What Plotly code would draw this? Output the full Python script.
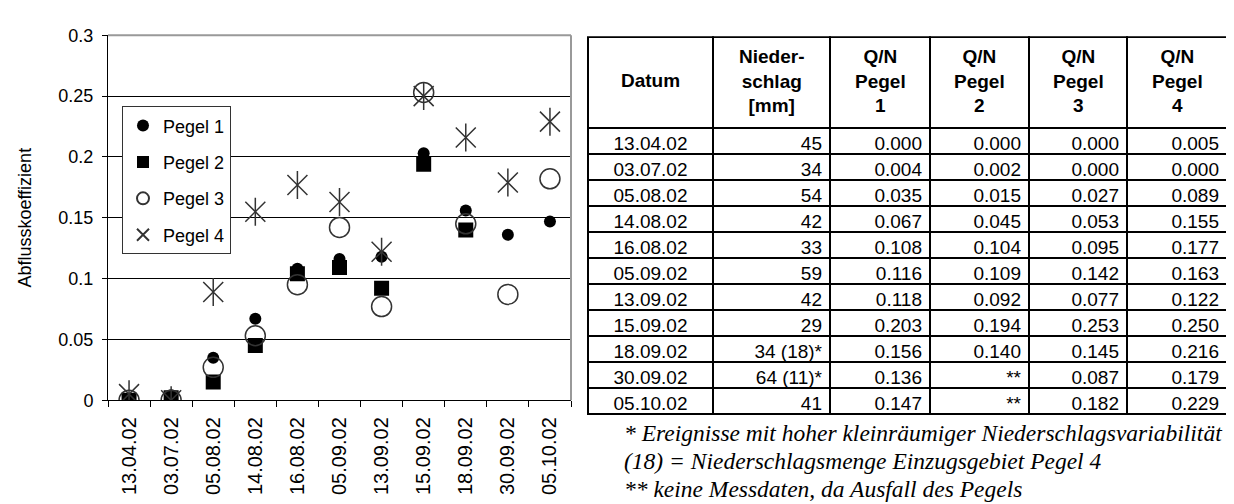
import plotly.graph_objects as go

W, H = 1234, 504

dates = ["13.04.02", "03.07.02", "05.08.02", "14.08.02", "16.08.02", "05.09.02",
         "13.09.02", "15.09.02", "18.09.02", "30.09.02", "05.10.02"]
niederschlag = ["45", "34", "54", "42", "33", "59", "42", "29", "34 (18)*", "64 (11)*", "41"]
pegel1 = [0.000, 0.004, 0.035, 0.067, 0.108, 0.116, 0.118, 0.203, 0.156, 0.136, 0.147]
pegel2 = [0.000, 0.002, 0.015, 0.045, 0.104, 0.109, 0.092, 0.194, 0.140, None, None]
pegel3 = [0.000, 0.000, 0.027, 0.053, 0.095, 0.142, 0.077, 0.253, 0.145, 0.087, 0.182]
pegel4 = [0.005, 0.000, 0.089, 0.155, 0.177, 0.163, 0.122, 0.250, 0.216, 0.179, 0.229]

header_labels = ["Datum", "Nieder-<br>schlag<br>[mm]", "Q/N<br>Pegel<br>1",
                 "Q/N<br>Pegel<br>2", "Q/N<br>Pegel<br>3", "Q/N<br>Pegel<br>4"]
footnotes = ["* Ereignisse mit hoher kleinräumiger Niederschlagsvariabilität",
             "(18) = Niederschlagsmenge Einzugsgebiet Pegel 4",
             "** keine Messdaten, da Ausfall des Pegels"]


def fmt(vals):
    return ["**" if v is None else f"{v:.3f}" for v in vals]


def px_x(x):
    return x / W


def px_y(y):
    return (H - y) / H


# layout geometry (pixels)
TABLE_L, TABLE_R, TABLE_T = 580, 1219, 20
HEADER_H, ROW_H = 91, 26
COL_W = [125, 117, 100, 99, 98, 100]

fig = go.Figure()

fig.add_trace(go.Scatter(x=dates, y=pegel1, mode="markers", name="Pegel 1",
                         legendgroup="p1",
                         marker=dict(symbol="circle", size=12, color="black")))
fig.add_trace(go.Scatter(x=dates, y=pegel2, mode="markers", name="Pegel 2",
                         legendgroup="p2",
                         marker=dict(symbol="square", size=15, color="black")))
fig.add_trace(go.Scatter(x=dates, y=pegel3, mode="markers", name="Pegel 3",
                         legendgroup="p3",
                         marker=dict(symbol="circle-open", size=20, color="#333333",
                                     line=dict(width=1.5, color="#333333"))))
fig.add_trace(go.Scatter(x=dates, y=pegel4, mode="markers", name="Pegel 4",
                         legendgroup="p4",
                         marker=dict(symbol="x-thin-open", size=20, color="#333333",
                                     line=dict(width=1.5, color="#333333"))))
fig.add_trace(go.Scatter(x=dates, y=pegel4, mode="markers", name="Pegel 4",
                         legendgroup="p4", showlegend=False,
                         marker=dict(symbol="line-ns-open", size=20, color="#333333",
                                     line=dict(width=1.5, color="#333333"))))

n_rows = len(dates)
table_bottom = TABLE_T + HEADER_H + ROW_H * n_rows + 20
cells = [dates, niederschlag, fmt(pegel1), fmt(pegel2), fmt(pegel3), fmt(pegel4)]
fig.add_trace(go.Table(
    domain=dict(x=[px_x(TABLE_L), px_x(TABLE_R)], y=[px_y(table_bottom), px_y(TABLE_T)]),
    columnwidth=COL_W,
    header=dict(values=["" for _ in header_labels], height=HEADER_H,
                line=dict(color="black", width=2), fill=dict(color="white")),
    cells=dict(values=cells, align=["center", "right", "right", "right", "right", "right"],
               height=ROW_H,
               font=dict(family="Liberation Sans, Arial", size=19, color="black"),
               line=dict(color="black", width=2), fill=dict(color="white")),
))

# header labels centred in their header cells
total_w = sum(COL_W)
scale = (TABLE_R - TABLE_L) / total_w
left = TABLE_L
for w, lab in zip(COL_W, header_labels):
    cx = left + w * scale / 2
    left += w * scale
    fig.add_annotation(text="<b>" + lab + "</b>", xref="paper", yref="paper",
                       x=px_x(cx), y=px_y(TABLE_T + HEADER_H / 2),
                       xanchor="center", yanchor="middle", align="center",
                       showarrow=False,
                       font=dict(family="Liberation Sans, Arial", size=19, color="black"))

for i, t in enumerate(footnotes):
    fig.add_annotation(text="<i>" + t + "</i>", xref="paper", yref="paper",
                       x=px_x(614), y=px_y(432 + 29 * i), xanchor="left", yanchor="middle",
                       showarrow=False,
                       font=dict(family="Liberation Serif, Times New Roman", size=23.5, color="black"))

fig.update_layout(
    width=W, height=H,
    margin=dict(l=0, r=0, t=0, b=0),
    paper_bgcolor="white", plot_bgcolor="white",
    font=dict(family="Liberation Sans, Arial", color="black"),
    showlegend=True,
    legend=dict(x=px_x(114), y=px_y(92), xanchor="left", yanchor="top",
                bgcolor="white", bordercolor="#333333", borderwidth=1,
                font=dict(size=18, color="black"), itemsizing="constant",
                tracegroupgap=10),
    xaxis=dict(domain=[px_x(100), px_x(563)], type="category", range=[-0.5, 10.5],
               showline=True, linecolor="black", linewidth=1,
               ticks="outside", tickson="boundaries", ticklen=6, tickcolor="black",
               tickangle=-90, tickfont=dict(size=20), ticklabelstandoff=8,
               showgrid=False),
    yaxis=dict(domain=[px_y(398), px_y(18)], range=[0, 0.3], dtick=0.05,
               showline=True, linecolor="black", linewidth=1,
               ticks="outside", ticklen=5, tickcolor="black", ticklabelstandoff=5,
               showgrid=True, gridcolor="black", gridwidth=1, zeroline=False,
               tickfont=dict(size=18),
               title=dict(text="Abflusskoeffizient", font=dict(size=18), standoff=22)),
    shapes=[
        dict(type="line", xref="x domain", yref="y domain", x0=0, x1=1, y0=1, y1=1,
             line=dict(color="#999999", width=2), layer="above"),
        dict(type="line", xref="x domain", yref="y domain", x0=1, x1=1, y0=0, y1=1,
             line=dict(color="#999999", width=2), layer="above"),
    ],
)

fig.write_html("out.html")
